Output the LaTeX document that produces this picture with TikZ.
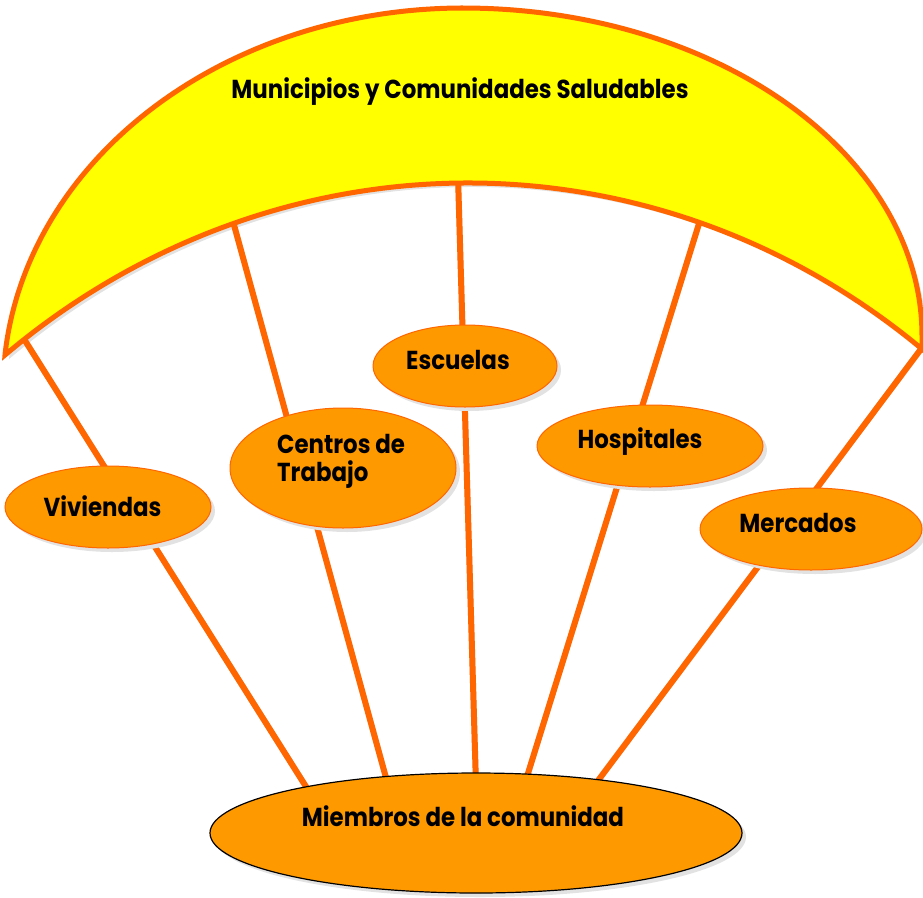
\documentclass[tikz,border=0pt]{standalone}
\usepackage{fontspec}
\setmainfont{Poppins}[FakeStretch=0.88]
\usetikzlibrary{shapes.geometric,shadows}
\definecolor{lineor}{HTML}{FF6600}
\definecolor{fillor}{HTML}{FF9900}
\definecolor{canopyy}{HTML}{FFFF00}
\definecolor{shd}{HTML}{E2E2E2}
\newcommand\canopyPath{plot[domain=174.6:90,samples=120] ({463+460*cos(\x)},{390-382*sin(\x)}) -- plot[domain=90:0,samples=120] ({463+459*cos(\x)},{335.6-327.6*sin(\x)}) -- (922,348) -- plot[domain=922:5,samples=200] (\x,{969-786*sqrt(1-((\x-463)/740)^2)-0.0074*(\x-463)}) -- cycle}
\tikzset{
  conn/.style={draw=lineor, line width=6pt},
  connshd/.style={draw=shd, line width=6pt},
  ell/.style={ellipse, draw=lineor, line width=1pt, fill=fillor, inner sep=0pt,
    drop shadow={shadow xshift=4pt, shadow yshift=-4pt, fill=shd, opacity=1}},
  lbl/.style={font=\fontsize{26}{28}\selectfont\bfseries, inner sep=0pt, text=black}
}
\begin{document}
\begin{tikzpicture}[x=1pt,y=-1pt]
\useasboundingbox (0,0) rectangle (923,897);
% canopy shadow
\begin{scope}[shift={(4,4)}]
  \fill[shd] \canopyPath;
\end{scope}
% attachment coordinates
\coordinate (cV) at (24,339);
\coordinate (mV) at (310,793);
\coordinate (cC) at (231,214);
\coordinate (mC) at (388,785);
\coordinate (cE) at (458,176);
\coordinate (mE) at (476,785);
\coordinate (cH) at (702,214);
\coordinate (mH) at (525,783);
\coordinate (cM) at (921,349);
\coordinate (mM) at (594,786);
% connector shadows
\begin{scope}[shift={(4,3)}]
  \foreach \a/\b in {cV/mV,cC/mC,cE/mE,cH/mH,cM/mM}{\draw[connshd] (\a) -- (\b);}
\end{scope}
% connectors
\draw[conn] (cV) -- (mV);
\draw[conn] (cC) -- (mC);
\draw[conn] (cE) -- (mE);
\draw[conn] (cH) -- (mH);
\draw[conn] (cM) -- (mM);
% canopy
\filldraw[fill=canopyy, draw=lineor, line width=5pt, line join=miter, miter limit=20] \canopyPath;
\node[lbl] (title) at (460,92) {Municipios y Comunidades Saludables};
% ellipses
\node[ell, minimum width=206pt, minimum height=82pt] (viv) at (108,507) {};
\node[ell, minimum width=226pt, minimum height=120pt] (cen) at (343,468) {};
\node[ell, minimum width=184pt, minimum height=82pt] (esc) at (465,366) {};
\node[ell, minimum width=226pt, minimum height=82pt] (hos) at (650,446) {};
\node[ell, minimum width=222pt, minimum height=82pt] (mer) at (811,529) {};
\node[ell, draw=black, line width=1.2pt, minimum width=532pt, minimum height=120pt] (mie) at (476,833) {};
% labels
\node[lbl] (tviv) at (102.5,506) {Viviendas};
\node[lbl, anchor=west, align=left] (tcen) at (277,461) {Centros de\\Trabajo};
\node[lbl] (tesc) at (458,360) {Escuelas};
\node[lbl] (thos) at (640,442) {Hospitales};
\node[lbl] (tmer) at (798,523) {Mercados};
\node[lbl] (tmie) at (463,816) {Miembros de la comunidad};
\end{tikzpicture}
\end{document}
